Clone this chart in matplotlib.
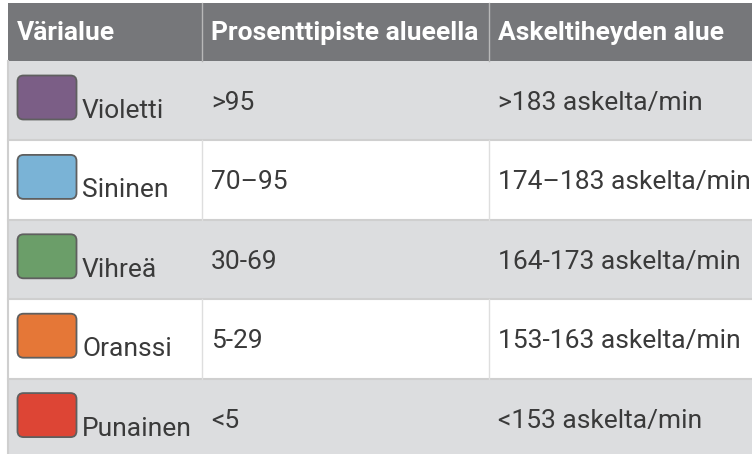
import matplotlib.pyplot as plt
from matplotlib.patches import Rectangle, FancyBboxPatch

# table content
headers = ['Värialue', 'Prosenttipiste alueella', 'Askeltiheyden alue']
zones = ['Violetti', 'Sininen', 'Vihreä', 'Oranssi', 'Punainen']
percentiles = ['>95', '70–95', '30-69', '5-29', '<5']
cadence = ['>183 askelta/min', '174–183 askelta/min', '164-173 askelta/min',
           '153-163 askelta/min', '<153 askelta/min']
swatch_colors = ['#7b5e86', '#7ab3d6', '#6b9e69', '#e57737', '#dd4535']

plt.rcParams['font.family'] = ['Roboto', 'DejaVu Sans']

W, H = 752, 454
fig = plt.figure(figsize=(W / 100, H / 100), dpi=100)
ax = fig.add_axes([0, 0, 1, 1])
ax.set_xlim(0, W)
ax.set_ylim(H, 0)
ax.axis('off')

left = 8
col_x = [left, 202, 489, W]
head_top, head_bot = 2.5, 61
row_h = 79.4
fs = 19
txt_col = '#3a3a3a'
line_col = '#cfcfcf'

# header
ax.add_patch(Rectangle((left, head_top), W - left, head_bot - head_top,
                       facecolor='#76777a', edgecolor='none'))
for i, h in enumerate(headers):
    ax.text(col_x[i] + 9, 40, h, color='white', fontsize=fs,
            fontweight='bold', va='baseline', ha='left')
for x in col_x[1:3]:
    ax.plot([x, x], [head_top, head_bot], color='#b8b8b8', lw=1)

# body rows
for r in range(len(zones)):
    top = head_bot + r * row_h
    bg = '#dcdddf' if r % 2 == 0 else 'white'
    ax.add_patch(Rectangle((left, top), W - left, row_h,
                           facecolor=bg, edgecolor='none'))
    ax.plot([left, W], [top + row_h, top + row_h], color=line_col, lw=1.5)
    if r % 2 == 1:
        for x in col_x[1:3]:
            ax.plot([x, x], [top, top + row_h], color='#dedede', lw=1)
    # color swatch
    ax.add_patch(FancyBboxPatch((17.5, top + 14.5), 59, 44,
                                boxstyle='round,pad=0,rounding_size=6',
                                facecolor=swatch_colors[r], edgecolor='#5f5f5f',
                                lw=1.3))
    ax.text(82, top + 57, zones[r], color=txt_col, fontsize=fs,
            va='baseline', ha='left')
    ax.text(col_x[1] + 9, top + 49, percentiles[r], color=txt_col,
            fontsize=fs, va='baseline', ha='left')
    ax.text(col_x[2] + 9, top + 49, cadence[r], color=txt_col,
            fontsize=fs, va='baseline', ha='left')

ax.plot([left, left], [head_bot, H], color=line_col, lw=1.5)

fig.savefig('out.png', dpi=100)
